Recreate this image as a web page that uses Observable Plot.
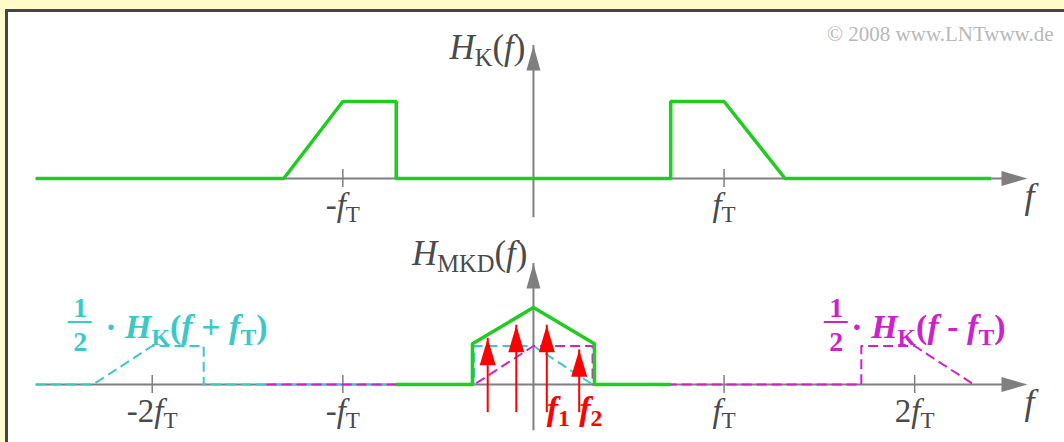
<!DOCTYPE html>
<html>
<head>
<meta charset="utf-8">
<script src="https://cdn.jsdelivr.net/npm/d3@7"></script>
<script src="https://cdn.jsdelivr.net/npm/@observablehq/plot@0.6"></script>
<style>
  html, body { margin: 0; padding: 0; background: #fffcca; }
  #page { position: relative; width: 1064px; height: 442px; overflow: hidden; }
  #panel { position: absolute; left: 5px; top: 9px; width: 1080px; height: 460px; background: #fff;
           border-left: 3px solid #454545; border-top: 3px solid #454545; }
  #top, #bottom { position: absolute; left: 0; }
  #top { top: 0; }
  #bottom { top: 226px; }
  svg { background: none !important; overflow: visible; }
</style>
</head>
<body>
<div id="page"><div id="panel"></div><div id="top"></div><div id="bottom"></div></div>
<script>
// Frequencies are in units of f_T, magnitudes relative to the passband level of H_K(f).

// Channel frequency response H_K(f)
const channelF = [-2.61, -1.31, -1.0, -0.72, -0.72, 0.72, 0.72, 1.0, 1.32, 2.40];
const channelH = [0, 0, 1, 1, 0, 0, 1, 1, 0, 0];

// ½·H_K(f + f_T)
const lowerF = [-2.61, -2.31, -2.0, -1.73, -1.73, -0.31, -0.31, 0, 0.31, 0.72];
const lowerH = [0, 0, 0.5, 0.5, 0, 0, 0.5, 0.5, 0, 0];

// ½·H_K(f − f_T)
const upperF = [-1.40, -0.31, 0, 0.31, 0.31, 1.72, 1.72, 2.0, 2.31];
const upperH = [0, 0, 0.5, 0.5, 0, 0, 0.5, 0.5, 0];

// Resulting H_MKD(f) after demodulation
const mkdF = [-0.72, -0.32, -0.32, 0, 0.32, 0.32, 0.72];
const mkdH = [0, 0, 0.53, 1.0, 0.53, 0, 0];

// Spectral lines of the baseband signal
const toneF = [-0.24, -0.09, 0.07, 0.24];
const toneA = [0.60, 0.77, 0.77, 0.45];
const toneLabels = ["", "", "*f*_{1}", "*f*_{2}"];
const toneFoot = -0.21;

// Axis ticks and their labels
const topTicks = [-1, 1];
const topTickLabels = ["-*f*_{T}", "*f*_{T}"];
const bottomTicks = [-2, -1, 1, 2];
const bottomTickLabels = ["-2*f*_{T}", "-*f*_{T}", "*f*_{T}", "2*f*_{T}"];

// Axis extents
const xDomain = [-2.796, 2.786];
const axisSpan = [-2.61, 2.592];
const tickHalf = 0.117;

const serif = "'Liberation Serif', 'Times New Roman', serif";
const gray = "#7f7f7f", ink = "#4a4a4a";
const green = "#1fcc1f", cyan = "#3cc8c8", magenta = "#cc22cc", red = "#ff0000";

const pts = (F, H) => F.map((f, i) => ({f, h: H[i]}));

// Filled arrowhead for Plot.vector: tip at the end of the vector
const head = {
  draw(context, l, r) {
    context.moveTo(-r, 0);
    context.lineTo(0, -l);
    context.lineTo(r, 0);
    context.closePath();
  }
};

function axes(ticks, tickLabels, vBottom, vTop) {
  return [
    Plot.ruleY([0], {x1: axisSpan[0], x2: axisSpan[1], insetRight: 20, stroke: gray, strokeWidth: 2}),
    Plot.vector([0], {x: axisSpan[1], y: 0, rotate: 90, anchor: "end", length: 26, r: 7.5,
                      shape: head, fill: gray, stroke: "none"}),
    Plot.ruleX([0], {y1: vBottom, y2: vTop, insetTop: 20, stroke: gray, strokeWidth: 2}),
    Plot.vector([0], {x: 0, y: vTop, anchor: "end", length: 25, r: 7,
                      shape: head, fill: gray, stroke: "none"}),
    Plot.ruleX(ticks, {x: d => d, y1: -tickHalf, y2: tickHalf, stroke: gray, strokeWidth: 1.5}),
    Plot.text(ticks, {x: d => d, y: 0, text: (d, i) => tickLabels[i], dy: 37,
                      lineAnchor: "bottom", fontSize: 33, fill: ink, fontFamily: serif}),
    Plot.text(["*f*"], {x: axisSpan[1], y: 0, dx: -3, dy: 29, textAnchor: "start",
                        lineAnchor: "bottom", fontSize: 36, fill: ink, fontFamily: serif})
  ];
}

// "½ · label" annotation anchored at the start of a plateau
function halfLabel(f, h, text, color, fracDx, textDx) {
  const base = {x: f, y: h, fill: color, fontFamily: serif, fontWeight: "bold", fontSize: 28, lineAnchor: "bottom"};
  return [
    Plot.text(["1"], {...base, dx: fracDx, dy: -29, textAnchor: "middle"}),
    Plot.text(["2"], {...base, dx: fracDx, dy: 5, textAnchor: "middle"}),
    Plot.ruleY([h], {x1: f, x2: f, dx: fracDx, dy: -24, insetLeft: -12, insetRight: -12,
                     stroke: color, strokeWidth: 2}),
    Plot.text([text], {...base, fontSize: 34, dx: textDx, dy: -8, textAnchor: "start"})
  ];
}

const common = {
  width: 1064, marginLeft: 0, marginRight: 0,
  x: {domain: xDomain, axis: null},
  y: {domain: [0, 1], axis: null},
  style: {background: "none", overflow: "visible"}
};

const topPlot = Plot.plot({
  ...common, height: 226, marginTop: 101, marginBottom: 48,
  marks: [
    ...axes(topTicks, topTickLabels, -0.25, 1.727),
    Plot.line(pts(channelF, channelH), {x: "f", y: "h", stroke: green, strokeWidth: 3.5,
                                        strokeLinejoin: "miter", strokeLinecap: "butt"}),
    Plot.text(["*H*_{K}(*f*)"], {x: 0, y: 0, dx: -8, dy: -120, textAnchor: "end", lineAnchor: "bottom",
                                 fontSize: 35, fill: ink, fontFamily: serif}),
    Plot.text(["© 2008 www.LNTwww.de"], {frameAnchor: "top-right", textAnchor: "end", lineAnchor: "bottom",
                                         dx: -11, dy: -61, fontSize: 21, fill: "#b8b8b8", fontFamily: serif})
  ]
});

const tones = toneF.map((f, i) => ({f, a: toneA[i], label: toneLabels[i]}));

const bottomPlot = Plot.plot({
  ...common, height: 216, marginTop: 81, marginBottom: 58,
  marks: [
    ...axes(bottomTicks, bottomTickLabels, -0.34, 1.571),
    Plot.line(pts(lowerF, lowerH), {x: "f", y: "h", stroke: cyan, strokeWidth: 2,
                                    strokeDasharray: "10,5", strokeLinecap: "butt"}),
    Plot.line(pts(upperF, upperH), {x: "f", y: "h", stroke: magenta, strokeWidth: 2,
                                    strokeDasharray: "10,5", strokeLinecap: "butt"}),
    Plot.line(pts(mkdF, mkdH), {x: "f", y: "h", stroke: green, strokeWidth: 3.5,
                                strokeLinejoin: "miter", strokeLinecap: "butt"}),
    Plot.ruleX(tones, {x: "f", y1: toneFoot, y2: "a", insetTop: 12, stroke: red, strokeWidth: 2}),
    Plot.vector(tones, {x: "f", y: "a", anchor: "end", length: 27, r: 8, shape: head, fill: red, stroke: "none"}),
    Plot.text(tones.filter(d => d.label), {x: "f", y: 0, text: "label", dx: 0, dy: 35, textAnchor: "start",
                                           lineAnchor: "bottom", fontSize: 34, fontWeight: "bold",
                                           fill: red, fontFamily: serif}),
    Plot.text(["*H*_{MKD}(*f*)"], {x: 0, y: 0, dx: -6, dy: -120, textAnchor: "end", lineAnchor: "bottom",
                                   fontSize: 35, fill: ink, fontFamily: serif}),
    ...halfLabel(-2.0, 0.5, "· *H*_{K}(*f* + *f*_{T})", cyan, -72, -47),
    ...halfLabel(1.72, 0.5, "· *H*_{K}(*f* - *f*_{T})", magenta, -25, -10)
  ]
});

document.getElementById("top").append(topPlot);
document.getElementById("bottom").append(bottomPlot);

// Turn the small markup in label strings into tspans: *…* italic, _{…} subscript
function parseRich(s) {
  const out = [];
  let italic = false, buf = "", i = 0;
  const flush = () => { if (buf) out.push({t: buf, italic, sub: false}); buf = ""; };
  while (i < s.length) {
    const c = s[i];
    if (c === "*") { flush(); italic = !italic; i++; }
    else if (c === "_" && s[i + 1] === "{") {
      flush();
      const j = s.indexOf("}", i);
      out.push({t: s.slice(i + 2, j), italic: false, sub: true});
      i = j + 1;
    } else { buf += c; i++; }
  }
  flush();
  return out;
}

function applyRich(svg) {
  d3.select(svg).selectAll("text").each(function () {
    const s = this.textContent;
    if (!/\*|_\{/.test(s)) return;
    const size = parseFloat(getComputedStyle(this).fontSize) || 30;
    const el = d3.select(this);
    el.text(null);
    let lowered = false;
    for (const seg of parseRich(s)) {
      const ts = el.append("tspan").text(seg.t);
      if (seg.italic) ts.attr("font-style", "italic");
      if (seg.sub) {
        ts.attr("font-size", size * 0.7);
        if (!lowered) { ts.attr("dy", size * 0.2); lowered = true; }
      } else if (lowered) {
        ts.attr("dy", -size * 0.2);
        lowered = false;
      }
    }
  });
}

applyRich(topPlot);
applyRich(bottomPlot);
</script>
</body>
</html>
